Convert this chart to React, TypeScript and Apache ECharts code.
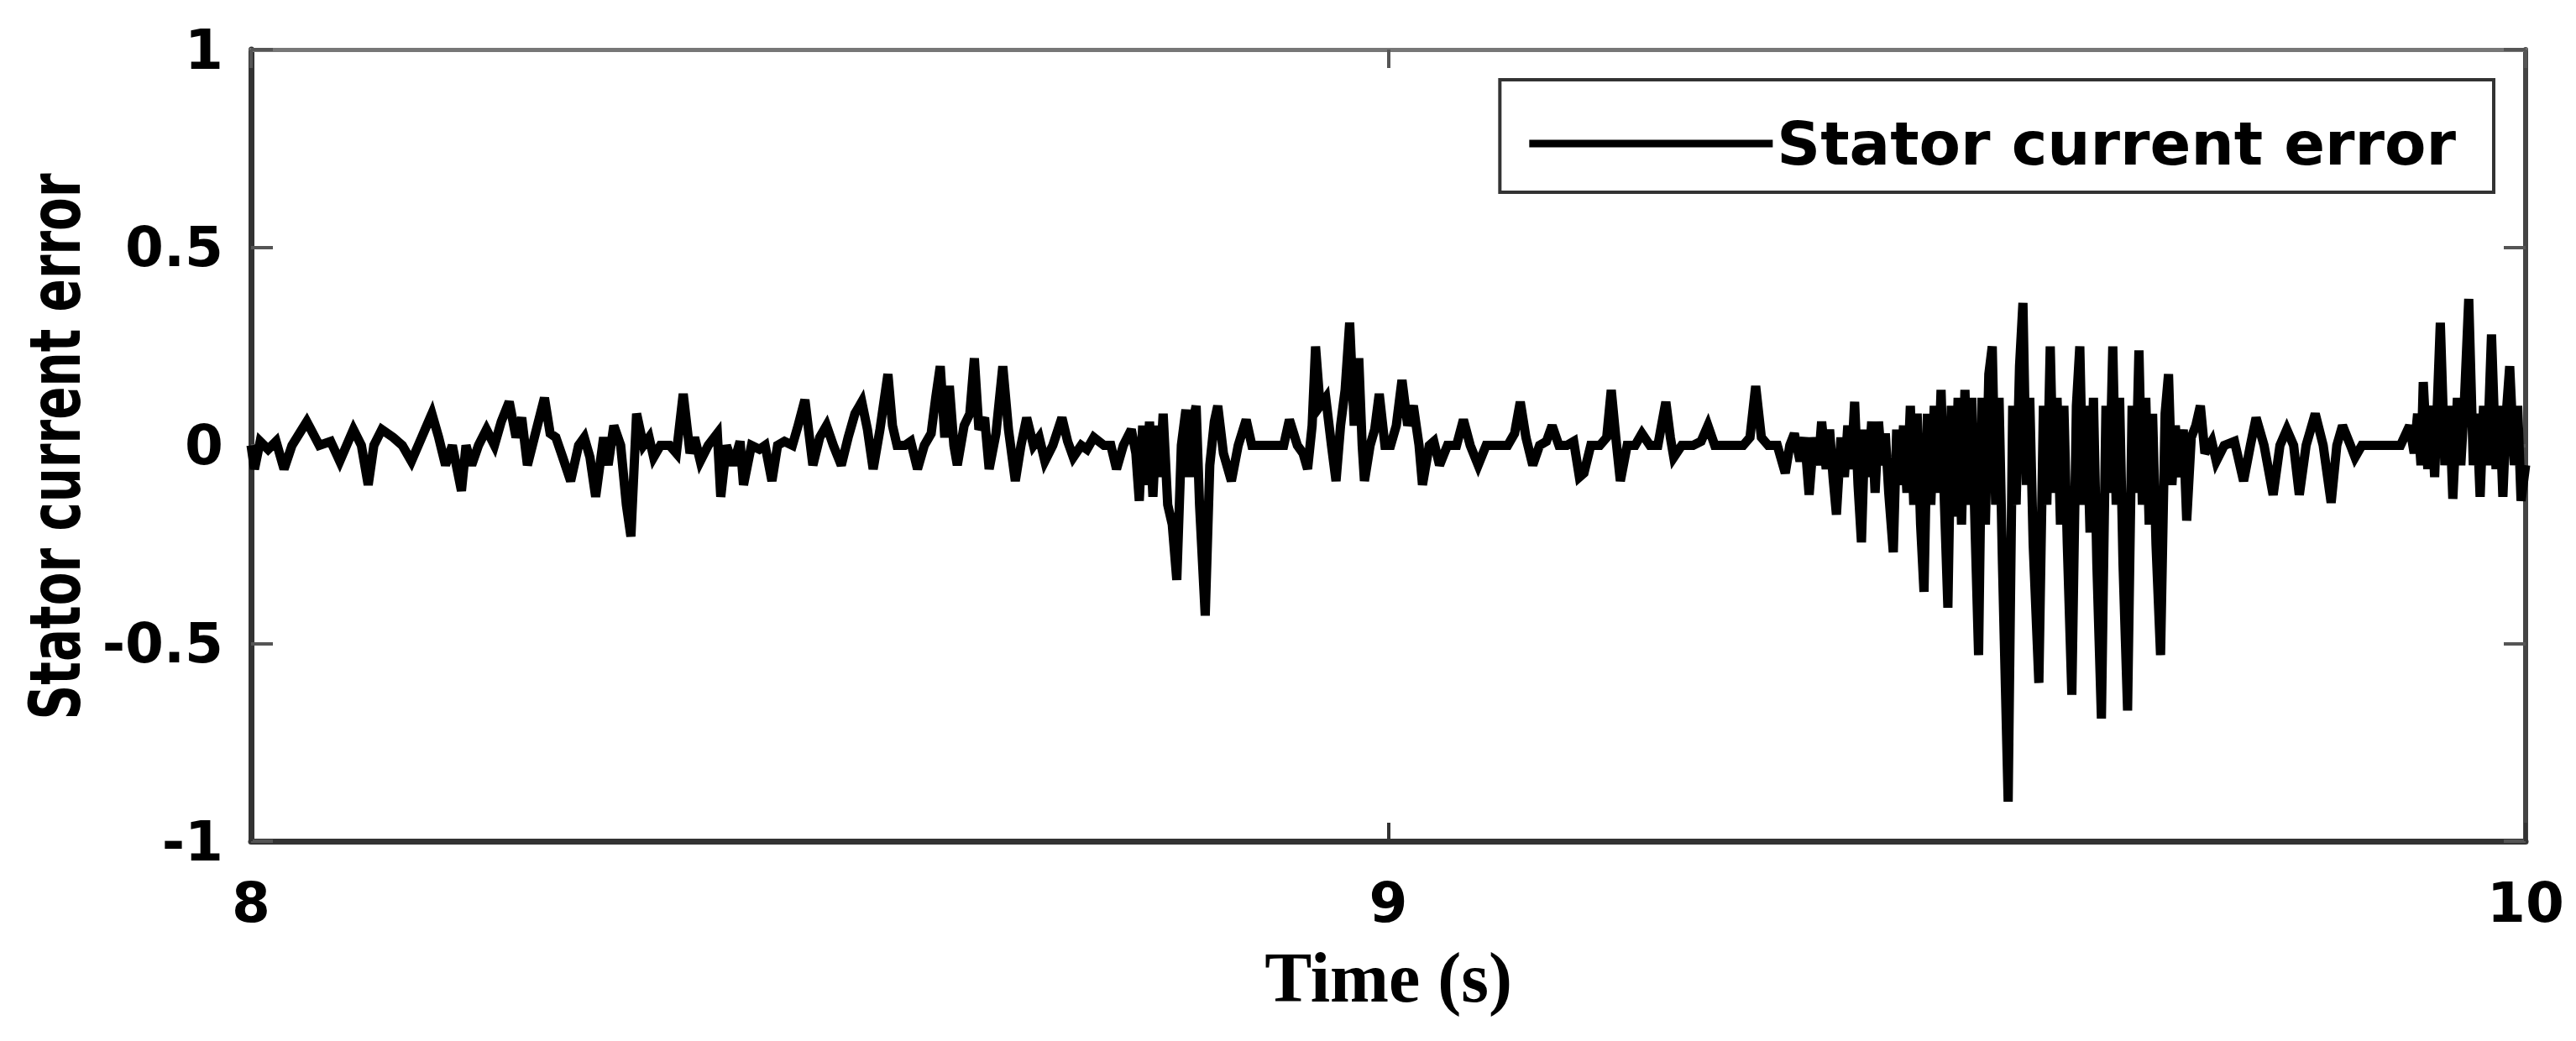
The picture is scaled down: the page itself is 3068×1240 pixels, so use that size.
import React, { useEffect, useRef } from "react";
import * as echarts from "echarts";

const X_TICKS = [8, 9, 10];
const Y_TICKS = [-1, -0.5, 0, 0.5, 1];
const SERIES_NAME = "Stator current error";
const X_TITLE = "Time (s)";
const Y_TITLE = "Stator current error";

// [time (s), error], segment by segment
const seg1: number[][] = [
  [8.000, 0.0], [8.003, -0.06], [8.008, 0.01], [8.015, -0.01], [8.022, 0.01], [8.029, -0.06], [8.036, 0.0],
  [8.049, 0.06], [8.060, 0.0], [8.070, 0.01], [8.078, -0.04], [8.090, 0.04], [8.097, 0.0], [8.103, -0.10],
  [8.108, 0.0], [8.115, 0.04], [8.125, 0.02], [8.133, 0.0], [8.141, -0.04], [8.150, 0.02], [8.159, 0.08],
  [8.165, 0.02], [8.171, -0.05], [8.177, 0.0], [8.185, -0.115], [8.189, 0.0], [8.194, -0.05], [8.200, 0.0],
  [8.207, 0.04], [8.214, 0.0], [8.220, 0.06], [8.227, 0.11], [8.233, 0.02], [8.238, 0.07], [8.243, -0.05],
  [8.250, 0.03], [8.258, 0.12], [8.263, 0.03], [8.268, 0.02], [8.274, -0.03], [8.281, -0.09], [8.288, 0.0],
  [8.293, 0.02], [8.298, -0.03], [8.303, -0.13], [8.310, 0.02], [8.314, -0.05], [8.319, 0.05], [8.325, 0.0],
  [8.330, -0.15], [8.334, -0.23], [8.339, 0.08], [8.345, 0.0], [8.350, 0.02], [8.354, -0.03], [8.360, 0.0],
  [8.368, 0.0], [8.374, -0.02], [8.380, 0.13], [8.386, -0.02], [8.390, 0.02],
];

const seg2: number[][] = [
  [8.395, -0.04], [8.402, 0.0], [8.410, 0.03], [8.413, -0.13], [8.418, 0.0], [8.424, -0.05], [8.430, 0.01],
  [8.433, -0.10], [8.440, 0.0], [8.447, -0.01], [8.452, 0.0], [8.458, -0.09], [8.463, 0.0], [8.469, 0.01],
  [8.476, 0.0], [8.481, 0.05], [8.487, 0.115], [8.494, -0.05], [8.500, 0.02], [8.506, 0.05], [8.512, 0.0],
  [8.519, -0.05], [8.525, 0.02], [8.531, 0.08], [8.537, 0.11], [8.542, 0.04], [8.547, -0.06], [8.553, 0.04],
  [8.560, 0.18], [8.564, 0.05], [8.568, 0.0], [8.575, 0.0], [8.580, 0.01], [8.586, -0.06], [8.592, 0.0],
  [8.598, 0.03], [8.602, 0.12], [8.606, 0.20], [8.610, 0.02], [8.614, 0.15], [8.618, 0.0], [8.621, -0.05],
  [8.627, 0.05], [8.632, 0.08], [8.636, 0.22], [8.640, 0.04], [8.645, 0.07], [8.649, -0.06], [8.655, 0.03],
  [8.661, 0.20], [8.666, 0.04], [8.672, -0.09], [8.677, 0.0], [8.682, 0.07], [8.688, 0.0], [8.693, 0.02],
  [8.698, -0.04], [8.705, 0.0], [8.713, 0.07], [8.718, 0.01], [8.723, -0.03], [8.730, 0.0], [8.735, -0.01],
  [8.741, 0.02], [8.750, 0.0], [8.756, 0.0], [8.761, -0.06], [8.767, 0.0], [8.774, 0.04], [8.778, -0.02],
];

const seg3: number[][] = [
  [8.781, -0.14], [8.784, 0.05], [8.787, -0.10], [8.790, 0.06], [8.793, -0.13], [8.796, 0.05], [8.799, -0.08],
  [8.802, 0.08], [8.806, -0.15], [8.810, -0.20], [8.814, -0.34], [8.818, 0.0], [8.822, 0.09], [8.825, -0.08],
  [8.828, 0.06], [8.831, 0.10], [8.834, -0.15], [8.839, -0.43], [8.843, -0.05], [8.847, 0.06], [8.850, 0.10],
  [8.855, -0.02], [8.862, -0.09], [8.868, 0.0], [8.875, 0.065], [8.880, 0.0], [8.890, 0.0], [8.900, 0.0],
  [8.908, 0.0], [8.913, 0.065], [8.920, 0.0], [8.925, -0.02], [8.929, -0.06], [8.933, 0.05], [8.936, 0.25],
  [8.940, 0.10], [8.945, 0.12], [8.950, 0.0], [8.954, -0.09], [8.958, 0.05], [8.962, 0.14], [8.966, 0.31],
  [8.970, 0.05], [8.974, 0.22], [8.977, 0.0], [8.979, -0.09], [8.984, 0.0], [8.988, 0.04], [8.992, 0.13],
  [8.997, 0.0], [9.002, 0.0], [9.007, 0.05], [9.012, 0.165], [9.017, 0.05], [9.022, 0.10], [9.027, 0.0],
  [9.030, -0.10], [9.036, 0.0], [9.040, 0.01], [9.045, -0.05], [9.052, 0.0], [9.060, 0.0], [9.066, 0.065],
  [9.072, 0.0], [9.079, -0.05], [9.086, 0.0], [9.095, 0.0], [9.105, 0.0], [9.111, 0.03], [9.116, 0.11],
  [9.121, 0.02], [9.127, -0.05], [9.133, 0.0], [9.139, 0.01], [9.144, 0.05], [9.150, 0.0], [9.157, 0.0],
  [9.163, 0.01], [9.168, -0.08],
];

const seg4: number[][] = [
  [9.172, -0.07], [9.178, 0.0], [9.186, 0.0], [9.192, 0.02], [9.196, 0.14], [9.200, 0.02], [9.204, -0.09],
  [9.210, 0.0], [9.217, 0.0], [9.223, 0.03], [9.230, 0.0], [9.237, 0.0], [9.244, 0.11], [9.248, 0.02],
  [9.251, -0.03], [9.258, 0.0], [9.268, 0.0], [9.275, 0.01], [9.281, 0.05], [9.287, 0.0], [9.300, 0.0],
  [9.312, 0.0], [9.318, 0.02], [9.323, 0.15], [9.328, 0.02], [9.334, 0.0], [9.342, 0.0], [9.349, -0.07],
  [9.353, 0.0], [9.357, 0.03], [9.362, -0.04], [9.366, 0.02], [9.370, -0.125], [9.374, 0.02], [9.378, -0.05],
  [9.381, 0.06], [9.385, -0.06], [9.388, 0.04], [9.391, -0.08], [9.394, -0.175], [9.398, 0.02], [9.401, -0.08],
  [9.404, 0.05], [9.407, -0.06], [9.410, 0.11], [9.413, -0.10], [9.416, -0.245], [9.419, 0.04], [9.422, -0.08],
  [9.425, 0.06], [9.428, -0.12], [9.431, 0.06], [9.434, -0.05], [9.437, 0.03], [9.440, -0.12], [9.444, -0.27],
  [9.447, 0.04], [9.450, -0.10], [9.453, 0.05], [9.456, -0.12], [9.459, 0.10], [9.462, -0.15], [9.465, 0.08],
  [9.468, -0.20], [9.471, -0.37], [9.474, 0.08], [9.477, -0.15], [9.480, 0.10], [9.483, -0.12], [9.486, 0.14],
  [9.489, -0.15], [9.492, -0.41], [9.495, 0.10], [9.498, -0.18], [9.501, 0.12], [9.504, -0.20], [9.507, 0.14],
  [9.510, -0.15], [9.513, 0.12], [9.516, -0.22], [9.519, -0.53], [9.522, 0.12], [9.525, -0.20], [9.528, 0.18],
  [9.531, 0.25], [9.534, -0.15], [9.537, 0.12], [9.540, -0.30], [9.545, -0.90], [9.549, 0.10], [9.552, -0.15],
  [9.555, 0.20], [9.558, 0.36], [9.561, -0.10], [9.564, 0.12],
];

const seg5: number[][] = [
  [9.567, -0.25], [9.572, -0.60], [9.576, 0.10], [9.579, -0.15], [9.582, 0.25], [9.585, -0.12], [9.588, 0.12],
  [9.591, -0.20], [9.594, 0.10], [9.597, -0.25], [9.601, -0.63], [9.605, 0.10], [9.608, 0.25], [9.611, -0.15],
  [9.614, 0.10], [9.617, -0.22], [9.620, 0.12], [9.623, -0.30], [9.627, -0.69], [9.631, 0.10], [9.634, -0.12],
  [9.637, 0.25], [9.640, -0.15], [9.643, 0.12], [9.646, -0.30], [9.650, -0.67], [9.654, 0.10], [9.657, -0.12],
  [9.660, 0.24], [9.663, -0.15], [9.666, 0.12], [9.669, -0.20], [9.672, 0.08], [9.675, -0.25], [9.679, -0.53],
  [9.683, 0.08], [9.686, 0.18], [9.689, -0.10], [9.692, 0.05], [9.695, -0.08], [9.699, 0.04], [9.702, -0.19],
  [9.706, 0.02], [9.710, 0.05], [9.714, 0.10], [9.718, -0.02], [9.724, 0.01], [9.728, -0.04], [9.735, 0.0],
  [9.744, 0.01], [9.752, -0.09], [9.758, 0.0], [9.763, 0.07], [9.770, 0.0], [9.778, -0.125], [9.784, 0.0],
  [9.790, 0.04], [9.796, 0.0], [9.801, -0.125], [9.807, 0.0], [9.815, 0.08], [9.822, 0.0], [9.829, -0.145],
  [9.834, 0.0], [9.839, 0.05], [9.846, 0.0], [9.850, -0.03], [9.856, 0.0], [9.870, 0.0], [9.880, 0.0],
  [9.890, 0.0], [9.898, 0.05], [9.902, -0.02], [9.905, 0.08], [9.908, -0.05], [9.910, 0.16], [9.914, -0.06],
  [9.917, 0.10], [9.920, -0.08], [9.925, 0.31], [9.929, -0.05], [9.933, 0.10], [9.936, -0.135], [9.940, 0.12],
  [9.943, -0.05], [9.946, 0.10], [9.950, 0.37], [9.954, -0.05], [9.957, 0.08], [9.960, -0.13], [9.963, 0.10],
  [9.966, -0.05], [9.970, 0.28], [9.974, -0.06], [9.977, 0.10], [9.980, -0.13], [9.983, 0.08], [9.986, 0.20],
  [9.990, -0.05], [9.993, 0.10], [9.996, -0.14], [10.0, -0.05],
];

const SIGNAL = [...seg1, ...seg2, ...seg3, ...seg4, ...seg5];

const TICK_FONT = { fontFamily: "DejaVu Sans", fontWeight: "bold" as const, fontSize: 66, color: "#000" };

export default function App() {
  const ref = useRef<HTMLDivElement>(null);
  useEffect(() => {
    document.body.style.margin = "0";
    const chart = echarts.init(ref.current!, null, { renderer: "svg" });
    chart.setOption({
      animation: false,
      backgroundColor: "#fff",
      grid: { left: 299, right: 60, top: 59, bottom: 238, show: false },
      legend: {
        show: true,
        data: [SERIES_NAME],
        right: 98,
        top: 95,
        icon: "rect",
        itemWidth: 290,
        itemHeight: 9,
        padding: [40, 45, 22, 35],
        borderColor: "#333",
        borderWidth: 4,
        backgroundColor: "#fff",
        itemStyle: { color: "#000" },
        textStyle: { fontFamily: "DejaVu Sans", fontWeight: "bold", fontSize: 72, color: "#000" },
      },
      graphic: [
        {
          type: "text",
          x: 66,
          y: 532,
          rotation: Math.PI / 2,
          scaleX: 0.69,
          style: {
            text: Y_TITLE,
            fontFamily: "DejaVu Sans",
            fontWeight: "bold",
            fontSize: 84,
            fill: "#000",
            align: "center",
            verticalAlign: "middle",
          },
        },
      ],
      xAxis: [
        {
          type: "value",
          min: X_TICKS[0],
          max: X_TICKS[X_TICKS.length - 1],
          interval: 1,
          position: "bottom",
          axisLine: { show: true, onZero: false, lineStyle: { color: "#333", width: 7 } },
          axisTick: { show: true, inside: true, length: 22, lineStyle: { color: "#333", width: 4 } },
          axisLabel: { ...TICK_FONT, margin: 40, formatter: (v: number) => String(v) },
          splitLine: { show: false },
          name: X_TITLE,
          nameLocation: "middle",
          nameGap: 120,
          nameTextStyle: { fontFamily: "Liberation Serif", fontWeight: "bold", fontSize: 84, color: "#000" },
        },
        {
          type: "value",
          min: X_TICKS[0],
          max: X_TICKS[X_TICKS.length - 1],
          interval: 1,
          position: "top",
          axisLine: { show: true, onZero: false, lineStyle: { color: "#777", width: 5 } },
          axisTick: { show: true, inside: true, length: 22, lineStyle: { color: "#555", width: 4 } },
          axisLabel: { show: false },
          splitLine: { show: false },
        },
      ],
      yAxis: [
        {
          type: "value",
          min: Y_TICKS[0],
          max: Y_TICKS[Y_TICKS.length - 1],
          interval: 0.5,
          position: "left",
          axisLine: { show: true, onZero: false, lineStyle: { color: "#333", width: 7 } },
          axisTick: { show: true, inside: true, length: 26, lineStyle: { color: "#555", width: 4 } },
          axisLabel: { ...TICK_FONT, margin: 33, formatter: (v: number) => String(v) },
          splitLine: { show: false },
        },
        {
          type: "value",
          min: Y_TICKS[0],
          max: Y_TICKS[Y_TICKS.length - 1],
          interval: 0.5,
          position: "right",
          axisLine: { show: true, onZero: false, lineStyle: { color: "#444", width: 6 } },
          axisTick: { show: true, inside: true, length: 26, lineStyle: { color: "#555", width: 4 } },
          axisLabel: { show: false },
          splitLine: { show: false },
        },
      ],
      series: [
        {
          type: "line",
          name: SERIES_NAME,
          data: SIGNAL,
          xAxisIndex: 0,
          yAxisIndex: 0,
          symbol: "none",
          showSymbol: false,
          clip: true,
          itemStyle: { color: "#000" },
          lineStyle: { color: "#000", width: 11, join: "miter", miterLimit: 3 },
          z: 1,
        },
      ],
    });
    return () => chart.dispose();
  }, []);
  return (
    <div
      ref={ref}
      style={{ position: "absolute", left: 0, top: 0, width: 3068, height: 1240, background: "#fff" }}
    />
  );
}
